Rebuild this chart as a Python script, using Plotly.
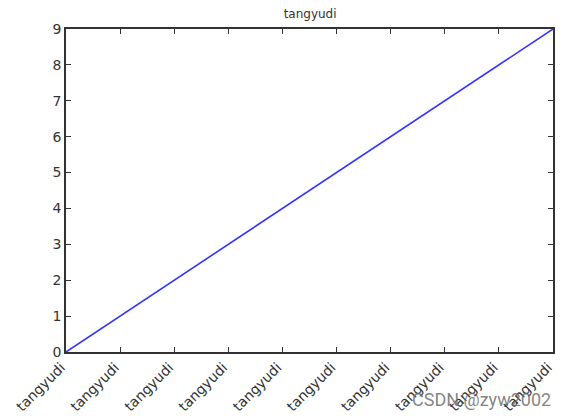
import plotly.graph_objects as go

x_values = list(range(10))
y_values = [0, 1, 2, 3, 4, 5, 6, 7, 8, 9]
x_tick_labels = ["tangyudi"] * 10
y_tick_vals = list(range(10))
title_text = "tangyudi"
watermark = "CSDN @zyw2002"

fig = go.Figure()
fig.add_trace(go.Scatter(x=x_values, y=y_values, mode="lines",
                         line=dict(color="#3333ff", width=1.6), showlegend=False))

axis_common = dict(showline=True, linecolor="#333333", linewidth=1.6, mirror="allticks",
                   ticks="inside", ticklen=5, tickcolor="#333333", tickwidth=1,
                   showgrid=False, zeroline=False, automargin=False,
                   tickfont=dict(family="DejaVu Sans", size=14, color="#333333"))

fig.update_layout(
    width=569, height=416,
    margin=dict(l=66, r=16, t=29, b=64),
    paper_bgcolor="white", plot_bgcolor="white",
    title=dict(text=title_text, x=0.545, xanchor="center", y=0.966, yanchor="middle",
               font=dict(family="DejaVu Sans", size=12, color="#333333"),
               automargin=False),
    xaxis=dict(range=[0, 9], tickvals=x_values, ticktext=x_tick_labels, tickangle=-45,
               ticklabelshift=-5, **axis_common),
    yaxis=dict(range=[0, 9], tickvals=y_tick_vals, **axis_common),
    annotations=[dict(text=watermark, xref="paper", yref="paper", x=1.0, y=-0.148,
                      xanchor="right", yanchor="middle", showarrow=False,
                      font=dict(family="Roboto", size=18, color="rgba(110,110,110,0.85)"))],
)

fig.write_html("out.html", config={"displayModeBar": False},
               post_script="document.body.style.margin='0px';document.body.style.overflow='hidden';")
